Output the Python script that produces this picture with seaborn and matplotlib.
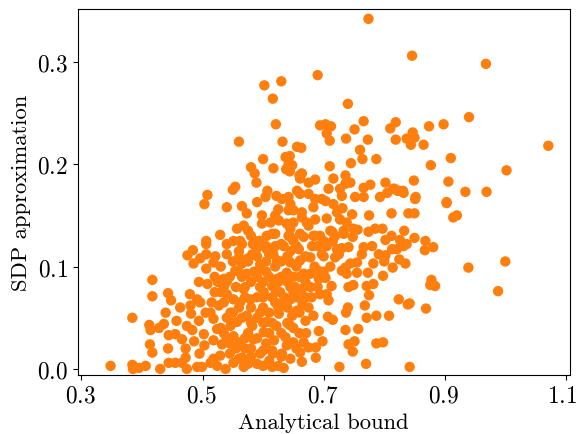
import matplotlib
matplotlib.use("Agg")
import matplotlib.pyplot as plt
from matplotlib.transforms import ScaledTranslation
import seaborn as sns
import pandas as pd

# values, grouped by region
low_x = [.348,.384,.385,.395,.406,.430,.444,.455,.466,.474,.491,.499,.472,.472,.413,.417,.443,.486,.503,.495,
         .518,.513,.524,.538,.529,.551,.568,.565,.384,.412,.414,.428,.436,.439,.457,.474,.483,.444,.455,.466,
         .417,.417,.443,.448,.463,.479,.491,.496,.480,.481,.494,.513,.527,.518,.524,.502,.518,.532,.475,.484,
         .485,.496,.506,.506,.506,.506,.494,.508,.521,.518,.529,.540,.551,.562,.565,.557,.568,.503,.540,.565,
         .573,.583,.594,.540,.560,.582,.606,.535,.535,.540,.551,.568,.554,.573,.595,
         .562,.579,.601,.546,.557,.573,.595,.606,.546,.551,.562,.584,.601,.582]
low_y = [.003,.004,.000,.001,.003,.000,.006,.006,.006,.000,.002,.002,.020,.011,.024,.016,.020,.027,.023,.015,
         .010,.006,.003,.000,.013,.006,.002,.011,.050,.043,.038,.040,.044,.055,.047,.042,.038,.033,.034,.029,
         .071,.087,.074,.067,.060,.073,.068,.065,.062,.054,.047,.055,.062,.049,.039,.034,.028,.024,.111,.116,
         .103,.108,.112,.098,.125,.122,.085,.083,.110,.104,.131,.122,.125,.125,.122,.137,.140,.161,.158,.159,
         .152,.122,.125,.112,.109,.112,.117,.088,.080,.073,.068,.078,.096,.093,.098,
         .065,.068,.075,.055,.046,.052,.055,.046,.042,.032,.026,.029,.036,.042]

mid_x = [.903,.914,.920,.812,.775,.840,.850,.833,.797,.785,.774,.812,.802,.826,.850,.868,.881,.867,.837,
         .832,.821,.813,.780,.766,.763,.791,.802,.800,.782,.825,.835,.814,.939,.773,.798,.755,.744,.730,.738,
         .755,.736,.878,.876,.884,.771,.782,.749,.741,.775,.824,.842,.839,.869,.768,.740,.737,.771,.787,.808,
         .707,.715,.683,.670,.736,.757,.692,.671,.698,.751,.741,.748,.787,.798,.687,.664,.726,.770,.842,.634,
         .615,.687,.675,.661,.667,.650,.637,.631,.616,.639,.618,.644,.622,.648,.656,.626,.665,.634,.708,.694,
         .705,.678,.664,.645,.713,.703,.692,.691,.667,.678,.639,.623,.653,.628,.615,.711,.661,.678,.645,.623,
         .719,.697,.722,.741,.705,.681,.659,.634,.617,.620,.645,.667,.683,.694,.714,.733,.748,.756]
mid_y = [.162,.148,.150,.152,.150,.152,.152,.135,.137,.137,.134,.130,.126,.126,.128,.125,.119,.116,.122,
         .120,.117,.117,.120,.119,.112,.112,.111,.105,.103,.107,.103,.099,.099,.094,.091,.104,.103,.096,.093,
         .094,.099,.087,.082,.081,.081,.083,.082,.080,.072,.068,.064,.063,.059,.062,.060,.055,.050,.052,.052,
         .051,.048,.052,.047,.038,.039,.037,.035,.027,.027,.024,.017,.025,.026,.011,.007,.002,.005,.002,.001,
         .002,.021,.021,.016,.026,.026,.031,.015,.015,.023,.028,.043,.042,.052,.057,.054,.063,.065,.067,.073,
         .073,.080,.078,.068,.081,.089,.088,.096,.093,.093,.094,.088,.080,.075,.081,.100,.106,.109,.104,.106,
         .109,.112,.117,.119,.120,.120,.117,.120,.112,.132,.129,.129,.130,.130,.134,.132,.129,.136]

top_x = [.774,.690,.630,.602,.616,.740,.621,.766,.819,.810,.751,.694,.703,.712,.705,.710,.737,.773,.819,.560,
         .632,.656,.663,.760,.644,.637,.600,.764,.787,.745,.580,.586,.617,.642,.648,.638,.644,.710,.716,.736,
         .664,.660,.675,.686,.589,.554,.550,.508,.802,.824,.817,.805,
         .846,.968,.940,.898,.874,.847,.837,.850,.844,.865,1.071,.910,.877,1.002,.849,.906,.934,.969,.815,.822,
         .831,.832,.852,.903,1.000,.988,.851]
top_y = [.342,.287,.281,.277,.264,.259,.239,.242,.241,.235,.234,.238,.239,.237,.230,.223,.225,.224,.224,.222,
         .222,.217,.216,.214,.208,.207,.205,.205,.205,.201,.197,.191,.196,.200,.199,.195,.193,.198,.186,.189,
         .191,.189,.182,.185,.182,.178,.175,.170,.182,.174,.176,.172,
         .306,.298,.246,.239,.237,.231,.225,.226,.219,.219,.218,.206,.199,.194,.184,.183,.173,.173,.176,.174,
         .174,.172,.168,.163,.105,.076,.166]

band_x = [.661,.744,.727,.736,.730,.752,.766,.766,.777,.793,.708,.703,.697,.716,.731,.722,.683,.686,.675,.656,
          .661,.607,.604,.590,.622,.631,.642,.645,.642,.650,.625,.620,.598,.598,.612,.626,.639,.650,.664,.664,
          .686,.672,.705,.727,.738,.747,.749,.733,.711,.719,.686,.661,.642,.645,.615,.606,.593,
          .575,.590,.605,.630,.575,.655,.675,.700,.725,.610,.595,.640,.580,.565,.690]
band_y = [.186,.182,.176,.181,.169,.168,.168,.177,.180,.168,.176,.164,.166,.161,.157,.153,.158,.166,.171,.174,
          .171,.174,.168,.163,.169,.166,.168,.161,.155,.155,.156,.150,.150,.142,.143,.145,.142,.143,.153,.148,
          .146,.143,.147,.146,.143,.151,.137,.135,.135,.130,.130,.132,.130,.137,.132,.130,.125,
          .135,.118,.120,.122,.108,.120,.140,.110,.112,.112,.102,.110,.130,.103,.120]

core_x = [.57,.58,.59,.60,.61,.625,.575,.59,.60,.61,.565,.58,.59,.60,.61,.62,.555,.565,.58,.59,
          .60,.61,.62,.63,.64,.65,.655,.575,.59,.605,.62,.63,.645,.655,.67,.56,.62,.65,.535,.545,.55,.53,.525,.52,.54,.55,.535,
          .555,.57,.545,.58,.595,.605,.615,.63,.64,.65,.66,.675,.68,.69,.70,.67,.685,.70,.715,.73]
core_y = [.02,.012,.005,.018,.008,.003,.035,.03,.045,.035,.05,.06,.07,.06,.055,.065,.08,.09,.085,.09,
          .085,.09,.078,.09,.085,.09,.07,.105,.11,.105,.1,.105,.115,.1,.11,.115,.12,.125,.065,.09,.105,.1,.085,.075,.05,.045,.035,
          .02,.07,.015,.02,.015,.025,.045,.035,.06,.04,.035,.06,.07,.08,.095,.085,.1,.125,.125,.118]

lower_x = [.505,.515,.530,.540,.550,.560,.570,.580,.590,.60,.615,.625,.635,.64,.645,.66,.52,.53,.54,.56,
           .57,.585,.595,.605,.625,.65,.66,.67,.56,.575,.60,.615,.63,.645,.655,.545]
lower_y = [.055,.065,.04,.03,.055,.06,.03,.045,.05,.07,.07,.06,.07,.045,.08,.055,.09,.075,.085,.095,
           .08,.095,.08,.095,.085,.075,.09,.07,.01,.005,.003,.018,.012,.01,.02,.025]

x_ticks = [0.3, 0.5, 0.7, 0.9, 1.1]
y_ticks = [0.0, 0.1, 0.2, 0.3]

df = pd.DataFrame({
    "bound": low_x + mid_x + top_x + band_x + core_x + lower_x,
    "sdp": low_y + mid_y + top_y + band_y + core_y + lower_y,
})

plt.rcParams["font.family"] = ["cmr10", "DejaVu Serif"]
plt.rcParams["axes.formatter.use_mathtext"] = True

fig, ax = plt.subplots(figsize=(5.77, 4.35), dpi=100)
fig.subplots_adjust(left=77.5 / 577, right=569.5 / 577, top=1 - 10 / 435, bottom=1 - 376 / 435)
sns.scatterplot(data=df, x="bound", y="sdp", color="#ff7f0e", s=56, edgecolor="none", linewidth=0, ax=ax)

ax.set_xlim(0.2934, 1.106)
ax.set_ylim(-0.0059, 0.3516)
ax.set_xticks(x_ticks)
ax.set_yticks(y_ticks)
ax.tick_params(labelsize=16.8)
ax.set_xlabel("Analytical bound", fontsize=16.3, labelpad=4)
ax.set_ylabel("SDP approximation", fontsize=16.3, labelpad=4)

# the last x label sits right at the picture's edge, so it gets a bigger nudge
labs = ax.get_xticklabels()
for lab in labs[:-1]:
    lab.set_transform(lab.get_transform() + ScaledTranslation(-1 / 100, 0, fig.dpi_scale_trans))
labs[-1].set_transform(labs[-1].get_transform() + ScaledTranslation(-3.8 / 100, 0, fig.dpi_scale_trans))

fig.savefig("out.png", dpi=100)
